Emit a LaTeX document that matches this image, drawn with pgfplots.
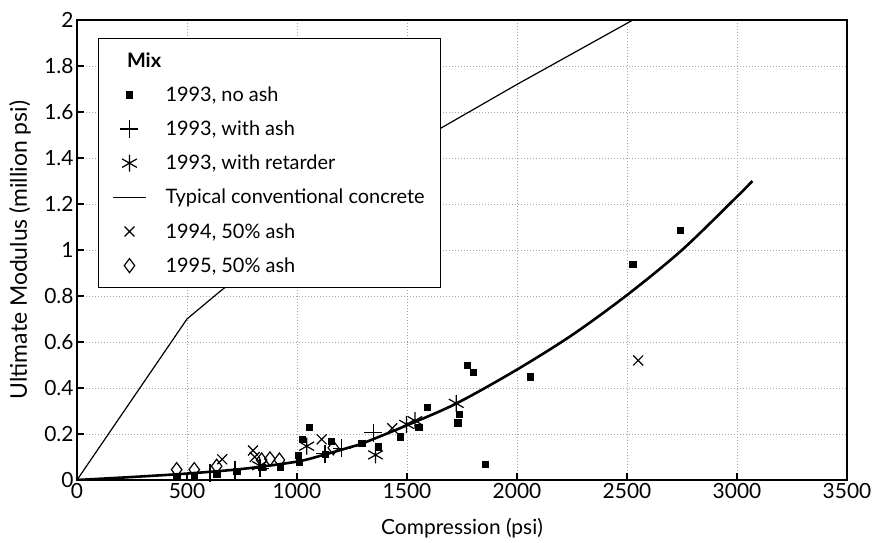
\documentclass[border=0pt]{standalone}
\usepackage{fontspec}
\setmainfont{Lato}
\usepackage{pgfplots}
\pgfplotsset{compat=1.18}
\begin{document}
\begin{tikzpicture}
\begin{axis}[
  scale only axis,
  width=770bp, height=460bp,
  xmin=0, xmax=3500, ymin=0, ymax=2,
  xtick={0,500,...,3500},
  ytick={0,0.2,...,2.01},
  /pgf/number format/assume math mode=true,
  /pgf/number format/1000 sep={},
  tick label style={font=\fontsize{21}{24}\selectfont},
  xlabel={Compression (psi)},
  ylabel={Ultimate Modulus (million psi)},
  xlabel style={font=\fontsize{21}{24}\selectfont, at={(axis description cs:0.5,-0.104)}, anchor=center},
  ylabel style={font=\fontsize{23}{26}\selectfont, at={(axis description cs:-0.074,0.5)}, anchor=center},
  tick pos=left, tick align=inside,
  major tick length=7bp,
  tick style={black, line width=1.2bp},
  axis line style={black, line width=1.5bp},
  grid=major,
  major grid style={gray!70, line width=0.8bp, dash pattern=on 1bp off 2bp},
  legend cell align=left,
  legend style={at={(axis description cs:0.027,0.961)}, anchor=north west,
    draw=black, line width=1.2bp, fill=white,
    font=\fontsize{20}{24}\selectfont,
    inner xsep=14bp, inner ysep=12bp, row sep=14bp, column sep=17bp},
  legend image code/.code={\draw[mark repeat=2,mark phase=2,#1] plot coordinates {(0bp,0bp) (16.5bp,0bp) (33bp,0bp)};},
]
\addlegendimage{empty legend}
\addlegendentry{\hspace*{-40bp}\textbf{Mix}\rule[-6bp]{0pt}{6bp}}

% 1993, no ash
\addplot[only marks, mark=square*, mark size=3.2bp, black] coordinates {
(453,0.017) (533,0.020) (635,0.024) (726,0.039) (839,0.056) (923,0.056)
(1009,0.078) (1006,0.109) (1024,0.177) (1055,0.229) (1155,0.168) (1127,0.111)
(1294,0.159) (1368,0.145) (1468,0.188) (1553,0.230) (1591,0.317) (1738,0.287)
(1730,0.249) (1774,0.499) (1801,0.468) (1855,0.068) (2059,0.449) (2526,0.938)
(2741,1.087)
};
\addlegendentry{1993, no ash}

% 1993, with ash
\addplot[only marks, mark=+, mark size=9bp, black, line width=1.2bp] coordinates {
(605,0.032) (718,0.045) (832,0.050) (1127,0.115) (1203,0.138) (1346,0.205)
};
\addlegendentry{1993, with ash}

% 1993, with retarder
\addplot[only marks, mark=asterisk, mark size=8.5bp, black, line width=1.2bp] coordinates {
(830,0.062) (1044,0.147) (1357,0.109) (1498,0.242) (1536,0.258) (1724,0.333)
};
\addlegendentry{1993, with retarder}

% Typical conventional concrete
\addplot[black, line width=1.2bp, mark=none] coordinates {
(0,0) (500,0.70) (650,0.82) (1000,1.08) (1300,1.29) (1618,1.51) (2000,1.72) (2527,2.0)
};
\addlegendentry{Typical conventional concrete}

% 1994, 50% ash
\addplot[only marks, mark=x, mark size=7bp, black, line width=1.2bp] coordinates {
(660,0.090) (800,0.128) (808,0.100) (1112,0.177) (1433,0.225) (2551,0.520)
};
\addlegendentry{1994, 50\% ash}

% 1995, 50% ash
\addplot[only marks, mark=diamond, mark size=7bp, black, line width=1.2bp] coordinates {
(453,0.045) (533,0.045) (635,0.060) (839,0.087) (877,0.092) (920,0.087) (1165,0.140)
};
\addlegendentry{1995, 50\% ash}

% fitted curve
\addplot[black, line width=2.6bp, mark=none, smooth, forget plot] coordinates {
(0,0) (250,0.013) (500,0.028) (750,0.048) (1000,0.080) (1120,0.109) (1250,0.145)
(1300,0.160) (1500,0.238) (1725,0.333) (2000,0.480) (2250,0.630) (2500,0.804)
(2750,1.000) (3000,1.232) (3070,1.300)
};
\end{axis}
\pgfresetboundingbox
\path[use as bounding box] ([xshift=-77bp,yshift=-63bp]current axis.south west) rectangle ([xshift=26bp,yshift=20bp]current axis.north east);
\end{tikzpicture}
\end{document}
